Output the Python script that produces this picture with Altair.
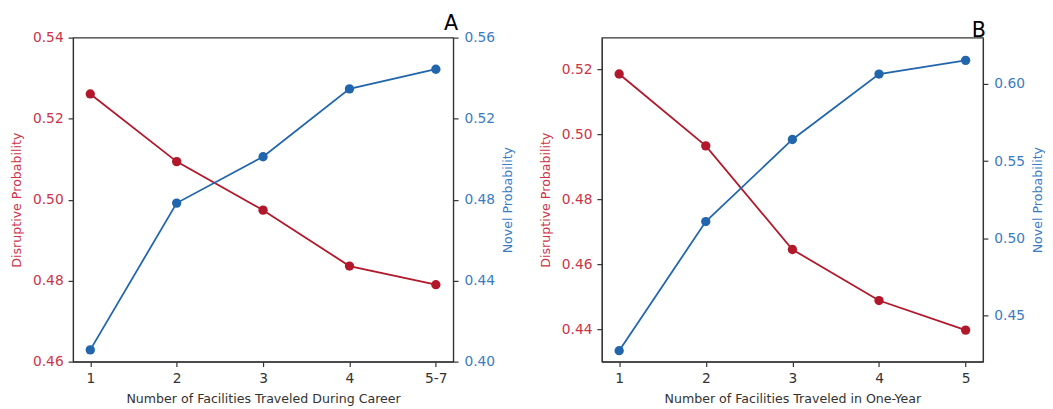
import altair as alt
import pandas as pd

RED = "#b2182b"
BLUE = "#2166ac"
RED_TXT = "#cc3349"
BLUE_TXT = "#3a7bc4"
FONT = "DejaVu Sans"

# Panel A data
a_x = ["1", "2", "3", "4", "5-7"]
a_disruptive = [0.5261, 0.5094, 0.4974, 0.4836, 0.4790]
a_novel = [0.4058, 0.4783, 0.5012, 0.5347, 0.5444]
a_left_ticks = [0.46, 0.48, 0.50, 0.52, 0.54]
a_right_ticks = [0.40, 0.44, 0.48, 0.52, 0.56]

# Panel B data
b_x = ["1", "2", "3", "4", "5"]
b_disruptive = [0.5185, 0.4964, 0.4645, 0.4488, 0.4397]
b_novel = [0.4271, 0.5108, 0.5640, 0.6064, 0.6153]
b_left_ticks = [0.44, 0.46, 0.48, 0.50, 0.52]
b_right_ticks = [0.45, 0.50, 0.55, 0.60]


def panel(xs, dis, nov, xtitle, ltick, rtick, ldom, rdom, label, width, dx):
    df = pd.DataFrame({"x": xs, "d": dis, "n": nov})
    base = alt.Chart(df).encode(
        x=alt.X("x:O", sort=xs, scale=alt.Scale(type="point", padding=0.2),
                axis=alt.Axis(title=xtitle, labelAngle=0))
    )
    red = base.mark_line(
        color=RED, strokeWidth=1.8,
        point=alt.OverlayMarkDef(filled=True, size=90, color=RED, opacity=1),
    ).encode(
        y=alt.Y("d:Q", scale=alt.Scale(domain=ldom, nice=False, zero=False),
                axis=alt.Axis(orient="left", title="Disruptive Probability",
                              values=ltick, format=".2f", titlePadding=9,
                              labelColor=RED_TXT, titleColor=RED_TXT))
    )
    blue = base.mark_line(
        color=BLUE, strokeWidth=1.8,
        point=alt.OverlayMarkDef(filled=True, size=90, color=BLUE, opacity=1),
    ).encode(
        y=alt.Y("n:Q", scale=alt.Scale(domain=rdom, nice=False, zero=False),
                axis=alt.Axis(orient="right", title="Novel Probability",
                              values=rtick, format=".2f", titleAngle=270,
                              titlePadding=20, labelPadding=6,
                              labelColor=BLUE_TXT, titleColor=BLUE_TXT))
    )
    return alt.layer(red, blue).resolve_scale(y="independent").properties(
        width=width, height=329,
        title=alt.TitleParams(label, anchor="end", frame="group", fontSize=21,
                              font=FONT, fontWeight="normal", color="#000",
                              offset=-3, dx=dx),
    )


pa = panel(a_x, a_disruptive, a_novel, "Number of Facilities Traveled During Career",
           a_left_ticks, a_right_ticks, [0.46, 0.54], [0.40, 0.56], "A", 386, 5)
pb = panel(b_x, b_disruptive, b_novel, "Number of Facilities Traveled in One-Year",
           b_left_ticks, b_right_ticks, [0.430, 0.5297], [0.420, 0.630], "B", 387, 3)

chart = alt.hconcat(pa, pb, spacing=24).properties(
    padding={"left": 2, "top": 1, "right": 0, "bottom": 0}
).configure_view(
    stroke="#333", strokeWidth=1.2
).configure_axis(
    grid=False, domainColor="#333", tickColor="#333", tickSize=5,
    domainWidth=1.2, tickWidth=1.2,
    labelFont=FONT, labelFontSize=14, labelColor="#333",
    titleFont=FONT, titleFontSize=12.8, titleFontWeight="normal", titleColor="#333",
    labelPadding=5, titlePadding=8,
)

chart.save("out.html", embed_options={"renderer": "svg", "actions": False})
